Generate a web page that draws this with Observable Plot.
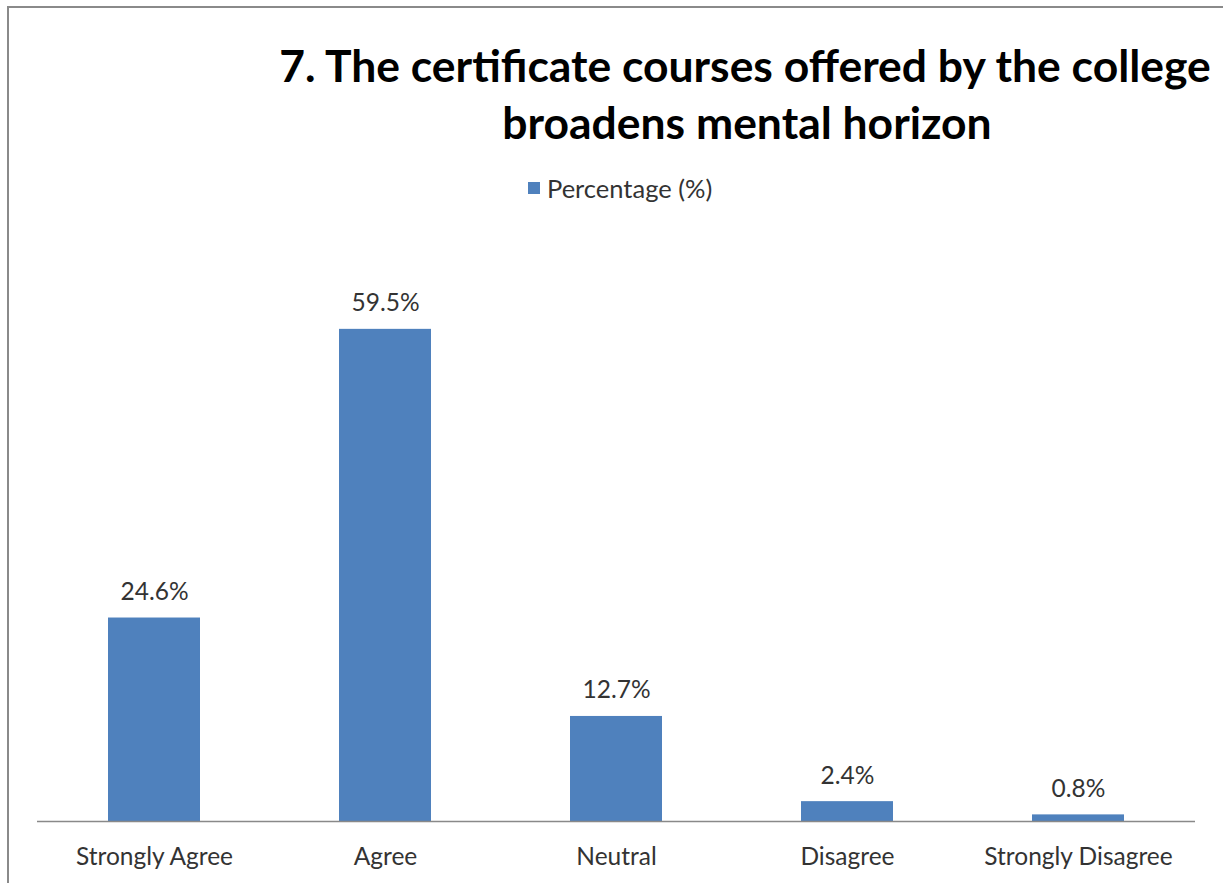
<!DOCTYPE html>
<html>
<head>
<meta charset="utf-8">
<script src="https://cdn.jsdelivr.net/npm/d3@7"></script>
<script src="https://cdn.jsdelivr.net/npm/@observablehq/plot@0.6"></script>
<style>
  html, body { margin: 0; padding: 0; background: #fff; }
  #wrap { position: relative; width: 1223px; height: 883px; overflow: hidden; background: #fff; font-family: Lato, "Open Sans", sans-serif; }
  #frame { position: absolute; left: 7px; top: 6px; width: 1400px; height: 1000px; border-left: 2px solid #8a8a8a; border-top: 2px solid #8a8a8a; }
  #title { position: absolute; left: 0; top: 0; }
  #legend { position: absolute; left: 528px; top: 173px; display: flex; align-items: center; font-size: 25.5px; color: #333; }
  #legend .sw { width: 12px; height: 12px; background: #4F81BD; margin-right: 7px; }
  #chart { position: absolute; left: 0; top: 220px; }
</style>
</head>
<body>
<div id="wrap">
  <div id="frame"></div>
  <svg id="title" width="1223" height="170">
    <text id="t1" x="745" y="82" text-anchor="middle" font-family="Lato, 'Open Sans', sans-serif" font-weight="bold" font-size="46" fill="#000"></text>
    <text id="t2" x="747" y="139" text-anchor="middle" font-family="Lato, 'Open Sans', sans-serif" font-weight="bold" font-size="46" fill="#000"></text>
  </svg>
  <div id="legend"><div class="sw"></div><span id="legendText"></span></div>
  <div id="chart"></div>
</div>
<script>
const titleLines = ["7. The certificate courses offered by the college", "broadens mental horizon"];
const categories = ["Strongly Agree", "Agree", "Neutral", "Disagree", "Strongly Disagree"];
const percentages = [24.6, 59.5, 12.7, 2.4, 0.8];
const seriesName = "Percentage (%)";

// title: size the font so the first line spans the same width as the reference
const t1 = document.getElementById("t1"), t2 = document.getElementById("t2");
t1.textContent = titleLines[0];
t2.textContent = titleLines[1];
const natural = t1.getComputedTextLength();
if (natural > 0) {
  const fs = 46 * 932 / natural;
  t1.setAttribute("font-size", fs);
  t2.setAttribute("font-size", fs);
}

document.getElementById("legendText").textContent = seriesName;

const data = categories.map((c, i) => ({category: c, value: percentages[i]}));

const chart = Plot.plot({
  width: 1223,
  height: 663,
  marginLeft: 37,
  marginRight: 28,
  marginTop: 22,
  marginBottom: 62,
  style: {fontFamily: "Lato, 'Open Sans', sans-serif", background: "transparent"},
  x: {domain: categories, paddingInner: 0.6, paddingOuter: 0.3, label: null},
  y: {domain: [0, 70], axis: null},
  marks: [
    Plot.barY(data, {x: "category", y: "value", fill: "#4F81BD"}),
    Plot.ruleY([0], {stroke: "#898989", strokeWidth: 1.5}),
    Plot.text(data, {x: "category", y: "value", text: d => d.value.toFixed(1) + "%", dy: -18, lineAnchor: "bottom", fontSize: 24.5, fill: "#333"}),
    Plot.axisX({tickSize: 0, tickPadding: 26, fontSize: 24.5, color: "#333", label: null})
  ]
});
document.getElementById("chart").appendChild(chart);
</script>
</body>
</html>
